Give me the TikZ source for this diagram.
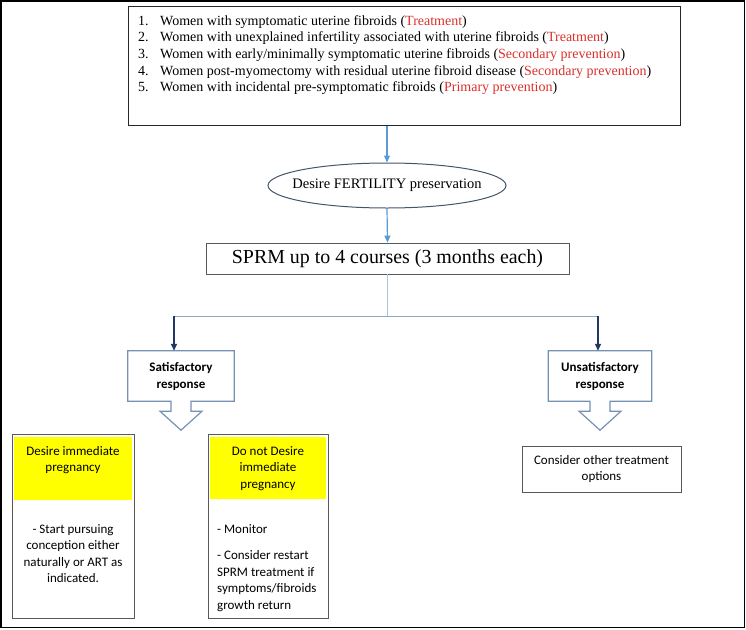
\documentclass[tikz,border=0pt]{standalone}
\usepackage{fontspec}
\setmainfont{Liberation Serif}
\newfontfamily\calibfont{Carlito}
\usetikzlibrary{shapes.geometric,arrows.meta,calc}
\definecolor{redt}{HTML}{D9302C}
\definecolor{bluearr}{HTML}{5B9BD5}
\definecolor{navy}{HTML}{1F3864}
\definecolor{ellc}{HTML}{44546A}
\definecolor{callc}{HTML}{7591B3}
\definecolor{boxc}{HTML}{595959}
\definecolor{yel}{HTML}{FFFF00}
\definecolor{stemc}{HTML}{A9C4DC}
\definecolor{hlinec}{HTML}{8EA6BF}
\newcommand\calloutshape[1]{%
  \draw[callc,line width=1.2pt,line join=miter]
    (#1.north west) -- (#1.north east) -- (#1.south east)
    -- ($(#1.south)+(10,0)$) -- ($(#1.south)+(10,10)$) -- ($(#1.south)+(21,10)$)
    -- ($(#1.south)+(0,29)$) -- ($(#1.south)+(-21,10)$) -- ($(#1.south)+(-10,10)$)
    -- ($(#1.south)+(-10,0)$) -- (#1.south west) -- cycle;}
\newcommand\rd[1]{\textcolor{redt}{#1}}
\newcommand\itm[1]{\makebox[22pt][l]{#1}}
\begin{document}
\begin{tikzpicture}[x=1pt,y=-1pt,
  plainbox/.style={draw=boxc,line width=0.8pt,rectangle,inner sep=0pt},
  calibtxt/.style={font=\calibfont\fontsize{13}{16.5}\selectfont},
  bluearrow/.style={draw=bluearr,line width=1.2pt,-{Triangle[length=7pt,width=6pt]}},
  navyarrow/.style={draw=navy,line width=1.3pt,-{Triangle[length=7pt,width=6pt]}},
  callbox/.style={rectangle,inner sep=0pt,align=center,font=\calibfont\bfseries\fontsize{13}{17}\selectfont},
]
\useasboundingbox (0,0) rectangle (746,629);
\draw[line width=1.5pt] (1.2,1.2) rectangle (744.6,627.6);

% top box
\node[draw=black!85,line width=1pt,rectangle,minimum width=552pt,minimum height=119pt,inner sep=0pt] (top) at (404,65.5) {};
\node[anchor=north west,inner sep=0pt,align=left,font=\fontsize{14}{16.7}\selectfont] (toptext) at (138,15)
 {\itm{1.}Women with symptomatic uterine fibroids (\rd{Treatment})\\
  \itm{2.}Women with unexplained infertility associated with uterine fibroids (\rd{Treatment})\\
  \itm{3.}Women with early/minimally symptomatic uterine fibroids (\rd{Secondary prevention})\\
  \itm{4.}Women post-myomectomy with residual uterine fibroid disease (\rd{Secondary prevention})\\
  \itm{5.}Women with incidental pre-symptomatic fibroids (\rd{Primary prevention})};

% ellipse
\node[ellipse,draw=ellc,line width=1pt,minimum width=238pt,minimum height=45pt,inner sep=0pt,font=\fontsize{14.5}{16}\selectfont] (ell) at (387,185.5) {\makebox[0pt]{Desire FERTILITY preservation}};

% SPRM box
\node[plainbox,minimum width=363pt,minimum height=31pt,font=\fontsize{19.9}{22}\selectfont] (sprm) at (387.5,258.5) {SPRM up to 4 courses (3 months each)};

% response callouts
\node[callbox,minimum width=106pt,minimum height=50pt] (sat) at (181,376) {Satisfactory\\response};
\node[callbox,minimum width=103pt,minimum height=50pt] (unsat) at (600,376) {Unsatisfactory\\response};
\calloutshape{sat}
\calloutshape{unsat}

% outcome boxes
\node[plainbox,minimum width=122pt,minimum height=184pt] (des) at (73,526) {};
\node[plainbox,minimum width=120pt,minimum height=184pt] (dn) at (268,526) {};
\fill[yel] ($(des.north west)+(2.5,3)$) rectangle ($(des.north east)+(-2.5,66)$);
\fill[yel] ($(dn.north west)+(2.5,3)$) rectangle ($(dn.north east)+(-2.5,65)$);
\node[calibtxt,anchor=north,inner sep=0pt,align=center] (deshead) at (73,446) {Desire immediate\\pregnancy};
\node[calibtxt,anchor=north,inner sep=0pt,align=center] (desbody) at (73,524) {- Start pursuing\\conception either\\naturally or ART as\\indicated.};
\node[calibtxt,anchor=north,inner sep=0pt,align=center] (dnhead) at (268,446) {Do not Desire\\immediate\\pregnancy};
\node[calibtxt,anchor=north west,inner sep=0pt,align=left] (dnbody) at (217,524) {- Monitor\\[10pt]- Consider restart\\SPRM treatment if\\symptoms/fibroids\\growth return};

\node[plainbox,calibtxt,align=center,minimum width=159pt,minimum height=46pt] (cons) at (601.5,469) {Consider other treatment\\options};

% connectors
\draw[bluearrow] (top.south -| ell.north) -- (ell.north);
\draw[bluearrow] (ell.south) -- (sprm.north);
\coordinate (jm) at (387.5,316);
\coordinate (jl) at (174,316);
\coordinate (jr) at (598,316);
\draw[stemc,line width=1.2pt] (sprm.south) -- (jm);
\draw[hlinec,line width=0.8pt] (jl) -- (jr);
\draw[navyarrow] (jl) -- (jl |- sat.north);
\draw[navyarrow] (jr) -- (jr |- unsat.north);
\end{tikzpicture}
\end{document}
